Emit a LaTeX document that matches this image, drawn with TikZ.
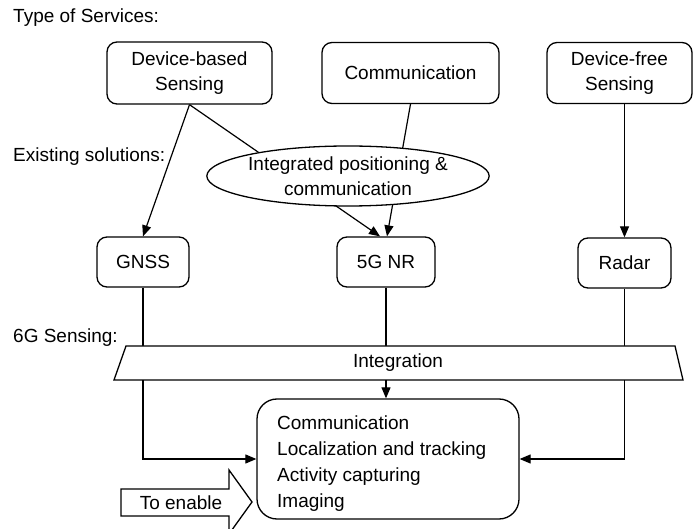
\documentclass[tikz,border=0pt]{standalone}
\usepackage{fontspec}
\setmainfont{Liberation Sans}
\usetikzlibrary{shapes.geometric,arrows.meta,backgrounds}
\begin{document}
\begin{tikzpicture}[x=1pt,y=-1pt,
  every node/.style={font=\fontsize{19}{25.5}\selectfont},
  box/.style={draw, line width=1.3pt, rounded corners=10pt, align=center, inner sep=0pt, fill=white},
  conn/.style={line width=1.2pt},
  arr/.style={conn, -{Triangle[length=11pt,width=9pt]}},
  lbl/.style={anchor=west, inner sep=0pt},
  resline/.style={anchor=base west, inner sep=0pt},
  shapeline/.style={line width=1.3pt, fill=white}]
\useasboundingbox (0,0) rectangle (694,529);
\clip (0,0) rectangle (694,529);
% labels on the left
\node[lbl] (tos) at (13,18) {Type of Services:};
\node[lbl] (exs) at (13,157) {Existing solutions:};
\node[lbl] (sg) at (13,338) {6G Sensing:};
% services
\node[box, minimum width=165pt, minimum height=62pt] (dbs) at (189.5,73) {Device-based\\Sensing};
\node[box, minimum width=177pt, minimum height=61pt] (com) at (410.5,73) {Communication};
\node[box, minimum width=145pt, minimum height=61pt] (dfs) at (619.5,73) {Device-free\\Sensing};
% ellipse
\node[draw, ellipse, line width=1.3pt, fill=white, minimum width=270pt, minimum height=60pt, inner sep=0pt, align=center] (ell) at (348,176) {Integrated positioning \&\\communication};
% existing solutions
\node[box, minimum width=92pt, minimum height=50pt] (gnss) at (143,262) {GNSS};
\node[box, minimum width=98pt, minimum height=50pt] (nr) at (386,262) {5G NR};
\node[box, minimum width=93pt, minimum height=50pt] (radar) at (624.5,263) {Radar};
% integration bar
\draw[shapeline] (126,346) -- (675,346) -- (683,380) -- (114,380) -- cycle;
\node (integ) at (398,363) {Integration};
% result box
\node[box, rounded corners=20pt, minimum width=262pt, minimum height=120pt] (res) at (388,459) {};
\node[resline] (rt1) at (277,429) {Communication};
\node[resline] (rt2) at (277,455) {Localization and tracking};
\node[resline] (rt3) at (277,481) {Activity capturing};
\node[resline] (rt4) at (277,507) {Imaging};
% to enable block arrow
\draw[shapeline] (121,489) -- (229,489) -- (229,470) -- (252,502) -- (229,534) -- (229,516) -- (121,516) -- cycle;
\node (ten) at (181,503) {To enable};
% connectors
\begin{scope}[on background layer]
\draw[arr] (dbs.south) -- (gnss.north);
\draw[arr] (dbs.south) -- ([xshift=-6pt]nr.north);
\draw[arr] (com.south) -- ([xshift=1pt]nr.north);
\draw[arr] (dfs.south -| radar.north) -- (radar.north);
\draw[arr] (gnss.south) |- (res.west);
\draw[arr] (radar.south) |- (res.east);
\draw[arr] (nr.south) -- (nr.south |- res.north);
\end{scope}
\end{tikzpicture}
\end{document}
